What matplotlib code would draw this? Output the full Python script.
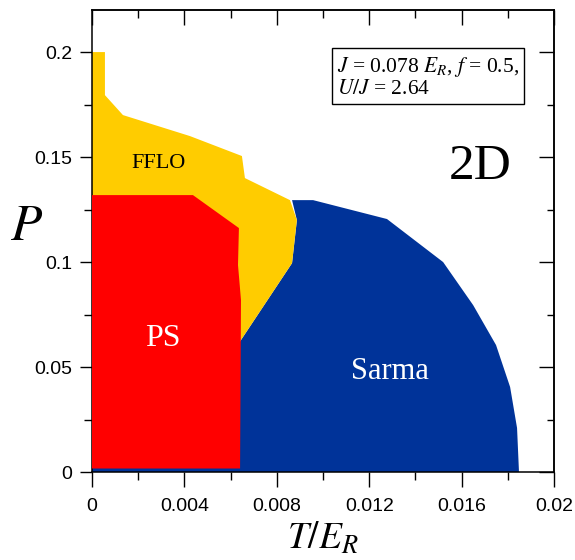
import matplotlib
matplotlib.use("Agg")
import matplotlib.pyplot as plt
from matplotlib.ticker import MultipleLocator

plt.rcParams["mathtext.fontset"] = "stix"

# phase boundaries (T/E_R, P)
sarma_T = [0, 0, 0.00636, 0.00866, 0.00887, 0.00866, 0.00957, 0.01277, 0.0152,
           0.0165, 0.01749, 0.0181, 0.0184, 0.01848, 0.01848]
sarma_P = [0, 0.0614, 0.0614, 0.0995, 0.120, 0.1295, 0.1295, 0.1205, 0.1000,
           0.0795, 0.0605, 0.0405, 0.021, 0.001, 0]

fflo_T = [0, 0.00056, 0.00056, 0.00134, 0.00424, 0.00649, 0.00662, 0.00857,
          0.00887, 0.00866, 0.00636, 0]
fflo_P = [0.2, 0.2, 0.1795, 0.170, 0.160, 0.1505, 0.140, 0.1295,
          0.120, 0.0995, 0.0614, 0.0614]

ps_T = [0, 0, 0.00437, 0.00636, 0.00632, 0.00645, 0.00641]
ps_P = [0.0017, 0.1319, 0.1319, 0.1162, 0.0986, 0.0819, 0.0017]

xticks = [0, 0.004, 0.008, 0.012, 0.016, 0.02]
xlabels = ["0", "0.004", "0.008", "0.012", "0.016", "0.02"]
yticks = [0, 0.05, 0.1, 0.15, 0.2]
ylabels = ["0", "0.05", "0.1", "0.15", "0.2"]

fig = plt.figure(figsize=(5.75, 5.6), dpi=100)
ax = fig.add_axes([0.16, 0.157, 0.8035, 0.825])

ax.fill(sarma_T, sarma_P, color="#003399", lw=0, zorder=1)
ax.fill(fflo_T, fflo_P, color="#FFCC00", lw=0, zorder=2)
ax.fill(ps_T, ps_P, color="#FF0000", lw=0, zorder=3)

ax.set_xlim(0, 0.02)
ax.set_ylim(0, 0.22)

serif = "Liberation Serif"
ax.text(0.00286, 0.147, "FFLO", family=serif, fontsize=16, ha="center", va="center", zorder=5)
ax.text(0.00307, 0.0638, "PS", family=serif, fontsize=23, color="white", ha="center", va="center", zorder=5)
ax.text(0.0129, 0.0481, "Sarma", family=serif, fontsize=22, color="white", ha="center", va="center", zorder=5)
ax.text(0.0168, 0.1455, "2D", family=serif, fontsize=37, ha="center", va="center", zorder=5)
ax.text(0.0106, 0.1985, r"$J$ = 0.078 $E_R$, $f$ = 0.5," + "\n" + r"$U/J$ = 2.64",
        family=serif, fontsize=15.5, ha="left", va="top", linespacing=1.05, zorder=5,
        bbox=dict(boxstyle="square,pad=0.22", fc="white", ec="black", lw=1))

ax.set_xticks(xticks)
ax.set_xticklabels(xlabels, family="Liberation Sans", fontsize=14)
ax.set_yticks(yticks)
ax.set_yticklabels(ylabels, family="Liberation Sans", fontsize=14)
ax.xaxis.set_minor_locator(MultipleLocator(0.002))
ax.yaxis.set_minor_locator(MultipleLocator(0.025))
ax.tick_params(axis="x", which="major", direction="out", length=11, width=1, pad=8)
ax.tick_params(axis="x", which="minor", direction="out", length=6, width=1)
ax.tick_params(axis="y", which="major", direction="out", length=9, width=1, pad=5)
ax.tick_params(axis="y", which="minor", direction="out", length=6, width=1)

top = ax.secondary_xaxis("top")
top.set_xticks(xticks)
top.xaxis.set_minor_locator(MultipleLocator(0.002))
top.tick_params(which="major", direction="in", length=11, width=1, labeltop=False)
top.tick_params(which="minor", direction="in", length=6, width=1)
right = ax.secondary_yaxis("right")
right.set_yticks(yticks)
right.yaxis.set_minor_locator(MultipleLocator(0.025))
right.tick_params(which="major", direction="in", length=11, width=1, labelright=False)
right.tick_params(which="minor", direction="in", length=5, width=1)

for sp in ax.spines.values():
    sp.set_linewidth(1.1)
top.spines["top"].set_linewidth(1.1)
right.spines["right"].set_linewidth(1.1)

ax.set_xlabel(r"$T/E_R$", fontsize=27, labelpad=4)
ax.set_ylabel(r"$P$", fontsize=37, rotation=0, ha="center", va="center")
ax.yaxis.set_label_coords(-0.142, 0.532)

fig.savefig("out.png", dpi=100)
